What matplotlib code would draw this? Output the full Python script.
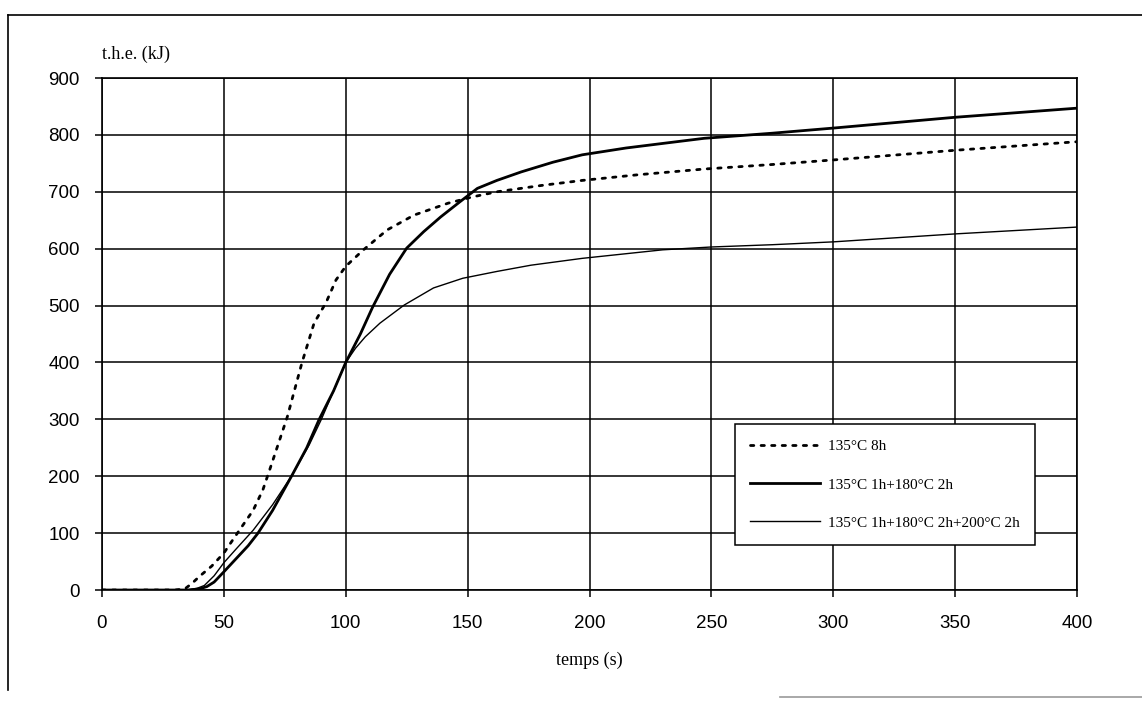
import matplotlib
matplotlib.use("Agg")

import matplotlib.pyplot as plt
from matplotlib.lines import Line2D

# heat release curves, t.h.e. (kJ) against time (s)
t_8h = [0, 30, 34, 37, 40, 45, 50, 53, 57, 62, 66, 69, 76, 82, 87, 92, 96, 100,
        107, 117, 128, 142, 152, 162, 180, 197, 220, 247, 275, 300, 350, 400]
the_8h = [0, 0, 2, 12, 24, 42, 65, 84, 109, 140, 176, 214, 304, 399, 469, 506, 545, 569,
          597, 633, 659, 680, 691, 700, 711, 720, 730, 740, 748, 756, 773, 788]

t_180 = [0, 35, 40, 43, 46, 50, 55, 60, 64, 70, 78, 84, 89, 95, 100, 106, 111, 118,
         125, 132, 139, 147, 154, 162, 172, 185, 197, 215, 230, 247, 275, 300, 350, 400]
the_180 = [0, 0, 2, 6, 14, 32, 55, 78, 100, 140, 202, 250, 299, 350, 400, 450, 497, 555,
           601, 630, 656, 683, 706, 720, 735, 752, 765, 777, 785, 794, 803, 812, 831, 847]

t_200 = [0, 35, 39, 42, 46, 50, 55, 62, 70, 78, 85, 90, 95, 100, 104, 108, 114, 124,
         136, 148, 162, 176, 197, 230, 250, 275, 300, 350, 400]
the_200 = [0, 0, 3, 8, 25, 48, 72, 105, 150, 202, 255, 300, 350, 400, 425, 445, 469, 501,
           531, 548, 560, 571, 583, 598, 603, 607, 612, 626, 638]

labels = ["135°C 8h", "135°C 1h+180°C 2h", "135°C 1h+180°C 2h+200°C 2h"]
x_ticks = [0, 50, 100, 150, 200, 250, 300, 350, 400]
y_ticks = [0, 100, 200, 300, 400, 500, 600, 700, 800, 900]

SANS = "Liberation Sans"
SERIF = "Liberation Serif"

fig = plt.figure(figsize=(11.42, 7.01), dpi=100)
ax = fig.add_axes([0.0893, 0.1583, 0.8538, 0.7304])

ax.plot(t_8h, the_8h, color="black", lw=2.0, linestyle=(0, (1.2, 2.6)),
        dash_capstyle="round", label=labels[0])
ax.plot(t_180, the_180, color="black", lw=2.0, label=labels[1])
ax.plot(t_200, the_200, color="black", lw=1.0, label=labels[2])

ax.set_xlim(0, 400)
ax.set_ylim(0, 900)
ax.set_xticks(x_ticks)
ax.set_yticks(y_ticks)
ax.grid(True, color="black", lw=1.1)
ax.set_axisbelow(True)
for sp in ax.spines.values():
    sp.set_linewidth(1.2)
ax.tick_params(direction="out", length=5, width=1.1)
ax.tick_params(axis="y", pad=11)
ax.tick_params(axis="x", pad=13)
for lab in ax.get_xticklabels() + ax.get_yticklabels():
    lab.set_fontfamily(SANS)
    lab.set_fontsize(13.5)

ax.set_xlabel("temps (s)", family=SERIF, fontsize=13, labelpad=14)
ax.text(0.0, 1.03, "t.h.e. (kJ)", transform=ax.transAxes, family=SERIF,
        fontsize=13, ha="left", va="bottom")

leg = ax.legend(loc="lower right", bbox_to_anchor=(0.957, 0.088),
                prop={"family": SERIF, "size": 11}, handlelength=4.6,
                handletextpad=0.5, labelspacing=1.6, borderpad=1.0,
                borderaxespad=0, fancybox=False, framealpha=1,
                edgecolor="black")
leg.get_frame().set_linewidth(1.1)

# page frame around the figure
fig.add_artist(Line2D([8 / 1142, 1.0], [1 - 15 / 701, 1 - 15 / 701],
                      color="black", lw=1.2, transform=fig.transFigure))
fig.add_artist(Line2D([8 / 1142, 8 / 1142], [1 - 15 / 701, 1 - 690 / 701],
                      color="black", lw=1.2, transform=fig.transFigure))
fig.add_artist(Line2D([780 / 1142, 1.0], [1 - 697 / 701, 1 - 697 / 701],
                      color="0.6", lw=1.2, transform=fig.transFigure))

fig.savefig("out.png", dpi=100)
